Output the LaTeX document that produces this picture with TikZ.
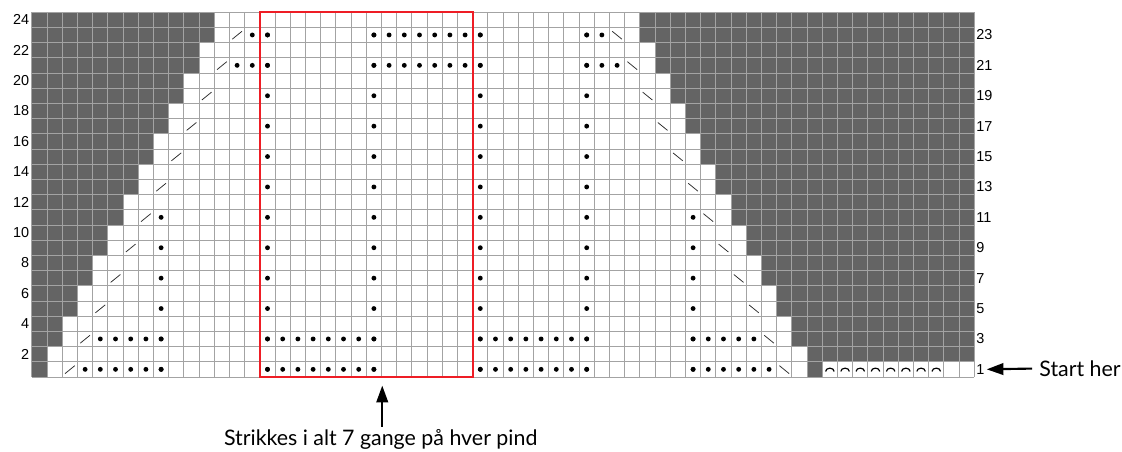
\documentclass[tikz,border=0pt]{standalone}
\usepackage{fontspec}
\setmainfont{Lato}
\newfontfamily\chartnum{Liberation Sans}
\usetikzlibrary{arrows.meta}
\definecolor{ChartDark}{HTML}{646464}
\definecolor{ChartLine}{HTML}{A3A3A3}
\definecolor{ChartRed}{HTML}{EE1D25}
\definecolor{ChartInk}{HTML}{2A2A2A}

\begin{document}
\begin{tikzpicture}[x=0.5cm,y=0.5cm,
  rowlab/.style={font=\chartnum\fontsize{13.5}{14}\selectfont,inner sep=1pt},
  note/.style={font=\fontsize{20}{22}\selectfont,inner sep=1pt},
  pointer/.style={line width=2pt,-{Triangle[length=5.5mm,width=3.8mm]}}]
  \useasboundingbox (-2.1,-4.93) rectangle (71.72,24.8);
  % grey cells are no stitch
  \foreach \k in {1,...,12}{
    \fill[ChartDark] (0,2*\k-2) rectangle (\k,2*\k);
    \fill[ChartDark] (52-\k,2*\k-2) rectangle (62,2*\k);
  }
  \fill[white] (52,0) rectangle (62,1);
  \draw[ChartLine,line width=0.8pt,step=0.5cm] (0,0) grid (62,24);
  % decreases on every right-side row
  \foreach \k in {1,...,12}{
    \draw[ChartInk,line width=0.7pt] (\k+1.18,2*\k-1.78) -- ++(0.64,0.52);
    \draw[ChartInk,line width=0.7pt] (50-\k+0.18,2*\k-1.26) -- ++(0.64,-0.52);
  }
  % purl stitches
  \foreach \c in {15,22,29,36}
    \foreach \y in {0,2,...,22}
      \fill (\c+0.5,\y+0.5) circle (0.16);
  \foreach \c in {8,43}
    \foreach \y in {0,2,...,10}
      \fill (\c+0.5,\y+0.5) circle (0.16);
  \foreach \a/\b/\y in {3/8/0,15/22/0,29/36/0,43/48/0,
                        4/8/2,15/22/2,29/36/2,43/47/2,
                        13/15/20,22/29/20,36/38/20,
                        14/15/22,22/29/22,36/37/22}
    \foreach \c in {\a,...,\b}
      \fill (\c+0.5,\y+0.5) circle (0.16);
  % cast-on loops
  \foreach \c in {52,...,59}
    \draw[line width=1.1pt] (\c+0.22,0.36) arc (180:0:0.28 and 0.22);
  % one repeat
  \draw[ChartRed,line width=1.8pt] (15,0) rectangle (29,24);
  \foreach \n in {2,4,...,24}
    \node[rowlab,anchor=east] (L\n) at (-0.1,\n-0.5) {\n};
  \foreach \n in {1,3,...,23}
    \node[rowlab,anchor=west] (R\n) at (62.05,\n-0.5) {\n};
  \node[note,anchor=west] (start) at (66.2,0.55) {Start her};
  \draw[pointer] ([xshift=-2mm]start.west) -- ([xshift=1pt]R1.east);
  \node[note] (repnote) at (22.95,-4.1) {Strikkes i alt 7 gange på hver pind};
  \coordinate (repbox) at (23.05,-0.57);
  \draw[pointer] ([yshift=1pt]repnote.north -| repbox) -- (repbox);
\end{tikzpicture}
\end{document}
